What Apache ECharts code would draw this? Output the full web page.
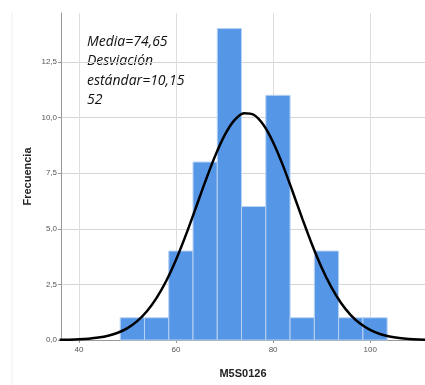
<!DOCTYPE html>
<html><head><meta charset="utf-8">
<script src="https://cdn.jsdelivr.net/npm/echarts@6/dist/echarts.min.js"></script>
<style>html,body{margin:0;padding:0;background:#fff}#c{width:425px;height:385px}</style>
</head><body><div id="c"></div>
<script>
// Histogram bins (M5S0126)
var binStart = [48.5, 53.5, 58.5, 63.5, 68.5, 73.5, 78.5, 83.5, 88.5, 93.5, 98.5];
var binEnd   = [53.5, 58.5, 63.5, 68.5, 73.5, 78.5, 83.5, 88.5, 93.5, 98.5, 103.5];
var counts   = [1, 1, 4, 8, 14, 6, 11, 1, 4, 1, 1];
// Normal curve
var curveX = [36,38,40,42,44,46,48,50,52,54,56,58,60,62,64,66,68,70,72,74,76,78,80,82,84,86,88,90,92,94,96,98,100,102,104,106,108,110,112];
var curveY = [0.007,0.015,0.030,0.058,0.108,0.191,0.326,0.537,0.849,1.292,1.892,2.664,3.609,4.702,5.894,7.107,8.243,9.198,9.872,10.193,10.124,9.673,8.890,7.861,6.685,5.470,4.304,3.258,2.373,1.663,1.121,0.726,0.453,0.272,0.157,0.087,0.046,0.024,0.012];
var xTicks = [40, 60, 80, 100];
var yTicks = [0, 2.5, 5, 7.5, 10, 12.5];
var statLines = ['Media=74,65', 'Desviación', 'estándar=10,15', '52'];
var xName = 'M5S0126';
var yName = 'Frecuencia';

var barData = binStart.map(function (s, i) { return [s, binEnd[i], counts[i]]; });
var lineData = curveX.map(function (x, i) { return [x, curveY[i]]; });

var chart = echarts.init(document.getElementById('c'), null, {renderer: 'canvas'});
chart.setOption({
  animation: false,
  grid: {left: 61, top: 13, right: 0, bottom: 45},
  xAxis: {
    type: 'value', min: 36.3, max: 111.3,
    name: xName, nameLocation: 'middle', nameGap: 28, nameMoveOverlap: false,
    nameTextStyle: {fontFamily: 'Liberation Sans', fontWeight: 'bold', fontSize: 11, color: '#222'},
    axisLine: {show: true, lineStyle: {color: '#999', width: 1}},
    axisTick: {show: true, length: 3, customValues: xTicks, lineStyle: {color: '#999'}},
    axisLabel: {customValues: xTicks, fontSize: 8, color: '#555', margin: 6, fontFamily: 'Liberation Sans'},
    splitLine: {show: true, lineStyle: {color: '#dedede', width: 1}}
  },
  yAxis: {
    type: 'value', min: 0, max: 14.7,
    name: yName, nameLocation: 'middle', nameGap: 28, nameMoveOverlap: false,
    nameTextStyle: {fontFamily: 'Liberation Sans', fontWeight: 'bold', fontSize: 11, color: '#222'},
    axisLine: {show: true, lineStyle: {color: '#999', width: 1}},
    axisTick: {show: true, length: 3, customValues: yTicks, lineStyle: {color: '#999'}},
    axisLabel: {customValues: yTicks, fontSize: 8, color: '#555', margin: 4, fontFamily: 'Liberation Sans',
      formatter: function (v) { return v.toFixed(1).replace('.', ','); }},
    splitLine: {show: true, lineStyle: {color: '#d6d6d6', width: 1}}
  },
  graphic: [
    {type: 'line', shape: {x1: 12, y1: 12, x2: 12, y2: 385}, style: {stroke: '#eeeeee', lineWidth: 1}, silent: true},
    {type: 'text', left: 87, top: 32, style: {text: statLines.join('\n'), fontFamily: 'Open Sans', fontStyle: 'italic', fontSize: 14, lineHeight: 19.5, fill: '#111'}}
  ],
  series: [
    {
      type: 'custom',
      data: barData,
      encode: {x: [0, 1], y: 2},
      renderItem: function (params, api) {
        var p0 = api.coord([api.value(0), api.value(2)]);
        var p1 = api.coord([api.value(1), 0]);
        return {
          type: 'rect',
          shape: {x: p0[0], y: p0[1], width: p1[0] - p0[0], height: p1[1] - p0[1]},
          style: {fill: '#5596e6', stroke: '#b9d3f4', lineWidth: 1}
        };
      },
      z: 2
    },
    {
      type: 'line', data: lineData, smooth: 0.3, showSymbol: false, symbol: 'none',
      lineStyle: {color: '#000', width: 2.5}, z: 3, clip: true
    }
  ]
});
</script></body></html>
